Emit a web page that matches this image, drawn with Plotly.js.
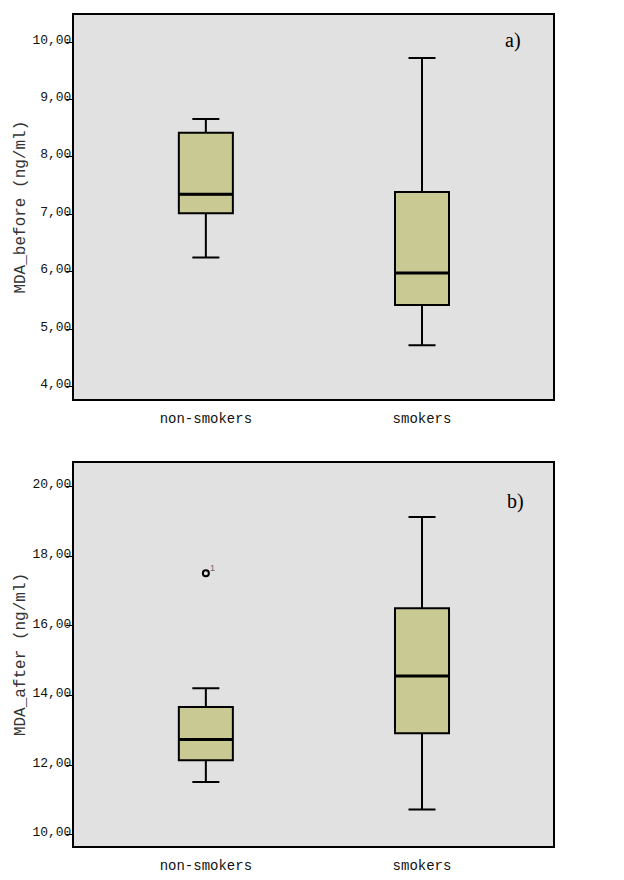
<!DOCTYPE html>
<html>
<head>
<meta charset="utf-8">
<script src="https://cdn.plot.ly/plotly-3.0.1.min.js"></script>
<style>html,body{margin:0;padding:0;background:#fff;}#chart{width:624px;height:880px;}</style>
</head>
<body>
<div id="chart"></div>
<script>
// ---- data ----
var groups = ['non-smokers', 'smokers'];
// panel a) MDA_before (ng/ml)
var beforeLow    = [6.25, 4.72];
var beforeQ1     = [7.02, 5.42];
var beforeMedian = [7.35, 5.98];
var beforeQ3     = [8.42, 7.39];
var beforeHigh   = [8.66, 9.72];
// panel b) MDA_after (ng/ml)
var afterLow    = [11.52, 10.73];
var afterQ1     = [12.14, 12.92];
var afterMedian = [12.74, 14.56];
var afterQ3     = [13.67, 16.51];
var afterHigh   = [14.21, 19.13];
var afterOutlierGroup = ['non-smokers'];
var afterOutlierValue = [17.51];
var afterOutlierCase  = ['1'];
var beforeTicks = [4, 5, 6, 7, 8, 9, 10];
var beforeTickText = ['4,00', '5,00', '6,00', '7,00', '8,00', '9,00', '10,00'];
var afterTicks = [10, 12, 14, 16, 18, 20];
var afterTickText = ['10,00', '12,00', '14,00', '16,00', '18,00', '20,00'];

// ---- style ----
var boxFill = '#c9c994';
var bg = '#e1e1e1';
var mono = 'Liberation Mono, Courier New, monospace';
var boxW = 0.25;

function boxTrace(low, q1, med, q3, high, xa, ya) {
  return {
    type: 'box', x: groups, lowerfence: low, q1: q1, median: med, q3: q3, upperfence: high,
    xaxis: xa, yaxis: ya, width: boxW, whiskerwidth: 0.5,
    fillcolor: boxFill, line: {color: '#000', width: 2},
    boxpoints: false, hoverinfo: 'skip', showlegend: false
  };
}

var traces = [
  boxTrace(beforeLow, beforeQ1, beforeMedian, beforeQ3, beforeHigh, 'x', 'y'),
  boxTrace(afterLow, afterQ1, afterMedian, afterQ3, afterHigh, 'x2', 'y2'),
  {
    type: 'scatter', mode: 'markers', x: afterOutlierGroup, y: afterOutlierValue,
    xaxis: 'x2', yaxis: 'y2',
    marker: {symbol: 'circle-open', size: 6, color: '#000', line: {width: 2, color: '#000'}},
    hoverinfo: 'skip', showlegend: false
  }
];

// thicker median lines drawn from the data
var shapes = [];
function medianShapes(med, xr, yr) {
  med.forEach(function (m, i) {
    shapes.push({type: 'line', xref: xr, yref: yr, x0: i - boxW / 2, x1: i + boxW / 2, y0: m, y1: m,
      line: {color: '#000', width: 3}});
  });
}
medianShapes(beforeMedian, 'x', 'y');
medianShapes(afterMedian, 'x2', 'y2');

var annotations = [
  {text: 'a)', xref: 'x domain', yref: 'y domain', x: 0.937, y: 0.969, showarrow: false,
   font: {family: 'Liberation Serif, Times New Roman, serif', size: 20, color: '#000'}},
  {text: 'b)', xref: 'x2 domain', yref: 'y2 domain', x: 0.944, y: 0.935, showarrow: false,
   font: {family: 'Liberation Serif, Times New Roman, serif', size: 20, color: '#000'}}
];
afterOutlierValue.forEach(function (v, i) {
  annotations.push({text: afterOutlierCase[i], xref: 'x2', yref: 'y2', x: afterOutlierGroup[i], y: v,
    xshift: 7, yshift: 5, showarrow: false, font: {family: 'Liberation Sans, Arial, sans-serif', size: 9, color: '#666'}});
});

function yax(domain, range, tv, tt, title) {
  return {
    domain: domain, range: range, tickvals: tv, ticktext: tt, tickmode: 'array',
    showgrid: false, zeroline: false, showline: true, mirror: true, linecolor: '#000', linewidth: 2,
    ticks: 'outside', ticklen: 6, tickcolor: '#000', tickwidth: 1,
    tickfont: {family: mono, size: 13, color: '#111'}, ticklabelstandoff: -8, ticklabelshift: -3,
    title: {text: title, font: {family: mono, size: 16, color: '#333'}, standoff: 3}
  };
}
function xax(anchor) {
  return {
    anchor: anchor, type: 'category', categoryorder: 'array', categoryarray: groups,
    range: [-0.61, 1.606], showgrid: false, zeroline: false, showline: true, mirror: true,
    linecolor: '#000', linewidth: 2, ticks: '', ticklabelstandoff: 5,
    tickfont: {family: mono, size: 14, color: '#111'}
  };
}

var layout = {
  width: 624, height: 880,
  margin: {l: 74, r: 71, t: 15, b: 34},
  paper_bgcolor: '#fff', plot_bgcolor: bg,
  showlegend: false,
  xaxis: xax('y'),
  yaxis: yax([0.5375, 1], [3.78, 10.47], beforeTicks, beforeTickText, 'MDA_before (ng/ml)'),
  xaxis2: xax('y2'),
  yaxis2: yax([0, 0.4609], [9.68, 20.68], afterTicks, afterTickText, 'MDA_after (ng/ml)'),
  shapes: shapes,
  annotations: annotations
};

Plotly.newPlot('chart', traces, layout, {displayModeBar: false, staticPlot: true});
</script>
</body>
</html>
